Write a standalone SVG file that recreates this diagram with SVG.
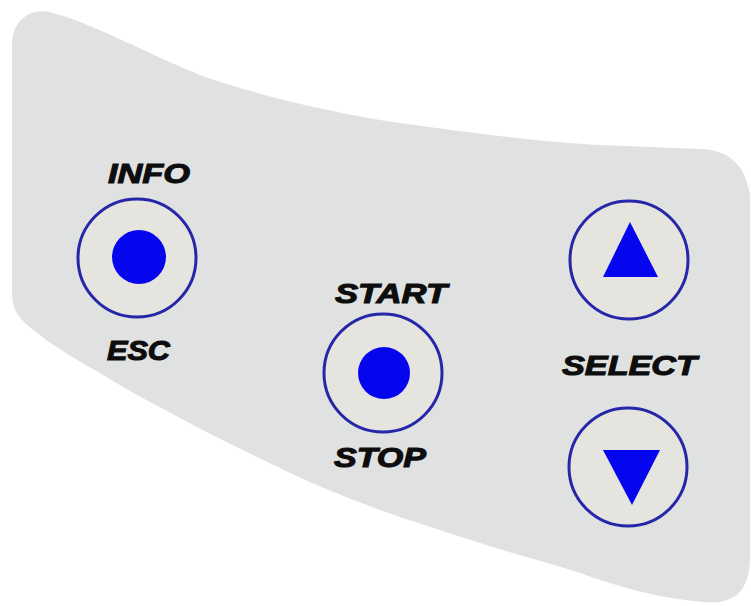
<svg xmlns="http://www.w3.org/2000/svg" width="751" height="606" viewBox="0 0 751 606">
  <defs>
    <style>
      .ring { fill: #e5e4de; stroke: #2626a8; stroke-width: 3; }
      .dot { fill: #0505ee; }
      .lbl { font-family: "Liberation Sans", Arial, sans-serif; font-weight: bold; font-style: italic; font-size: 28px; fill: #0d0d0d; stroke: #0d0d0d; stroke-width: 1.1; }
    </style>
  </defs>
  <rect width="751" height="606" fill="#ffffff"/>
  <g id="panel">
    <path d="M 12,292 L 12,45 C 12,20 30,8 50,12 C 90,22 150,55 200,75 C 250,93 330,113 400,123 C 470,133 550,143 600,145 L 700,149 C 730,150 745,165 750,195 L 750,560 C 749,590 735,605 705,602 C 670,600 620,588 580,573 C 540,560 510,553 480,543 C 440,530 410,521 380,510 C 340,495 310,483 280,468 C 245,451 215,437 180,418 C 150,402 120,386 100,373 C 80,362 55,347 40,335 C 20,320 12,312 12,292 Z" fill="#e0e2e1"/>
  </g>
  <g id="info-esc">
    <circle class="ring" cx="137" cy="258" r="59"/>
    <circle class="dot" cx="139" cy="257" r="27"/>
    <text class="lbl" x="108" y="183" textLength="82" lengthAdjust="spacingAndGlyphs">INFO</text>
    <text class="lbl" x="107" y="360" textLength="63" lengthAdjust="spacingAndGlyphs">ESC</text>
  </g>
  <g id="start-stop">
    <circle class="ring" cx="383" cy="373" r="59"/>
    <circle class="dot" cx="384" cy="373" r="26"/>
    <text class="lbl" x="335" y="303" textLength="112" lengthAdjust="spacingAndGlyphs">START</text>
    <text class="lbl" x="334" y="467" textLength="92" lengthAdjust="spacingAndGlyphs">STOP</text>
  </g>
  <g id="select-up">
    <circle class="ring" cx="629" cy="260" r="59"/>
    <polygon class="dot" points="630,222 658,277 603,277"/>
  </g>
  <g id="select-label">
    <text class="lbl" x="562" y="375" textLength="135" lengthAdjust="spacingAndGlyphs">SELECT</text>
  </g>
  <g id="select-down">
    <circle class="ring" cx="628" cy="467" r="59"/>
    <polygon class="dot" points="603,450 660,450 632,505"/>
  </g>
  <g id="connectors"/>
</svg>
